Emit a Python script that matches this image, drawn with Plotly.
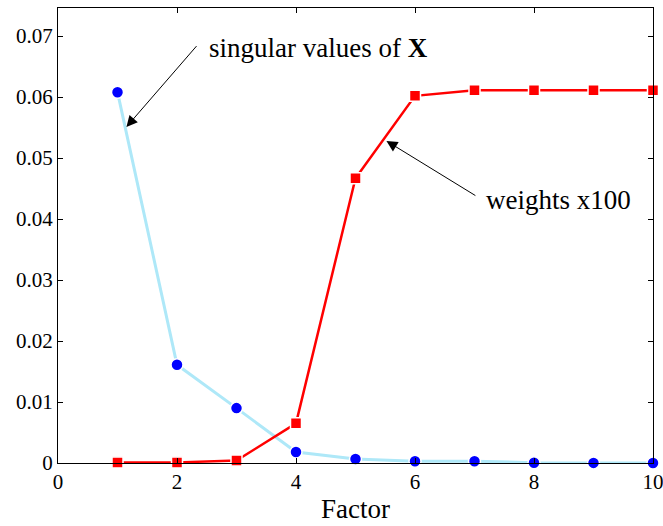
import plotly.graph_objects as go

factors = [1, 2, 3, 4, 5, 6, 7, 8, 9, 10]
singular_values = [0.0608, 0.0161, 0.0090, 0.0018, 0.00066, 0.0003, 0.0003, 0.00005, 0.00002, 0.00001]
weights_x100 = [0.0001, 0.0001, 0.0004, 0.0065, 0.0467, 0.0602, 0.0611, 0.0611, 0.0611, 0.0611]
x_ticks = [0, 2, 4, 6, 8, 10]
y_ticks = [0, 0.01, 0.02, 0.03, 0.04, 0.05, 0.06, 0.07]
y_tick_text = ["0", "0.01", "0.02", "0.03", "0.04", "0.05", "0.06", "0.07"]

font = "Liberation Serif"

fig = go.Figure()
fig.add_trace(go.Scatter(
    x=factors, y=singular_values, mode="lines+markers",
    line=dict(color="#aee8f8", width=3),
    marker=dict(symbol="circle", size=12, color="#0000ff", line=dict(color="white", width=1.5)),
    showlegend=False, cliponaxis=False,
))
fig.add_trace(go.Scatter(
    x=factors, y=weights_x100, mode="lines+markers",
    line=dict(color="#ff0000", width=2.5),
    marker=dict(symbol="square", size=11, color="#ff0000", line=dict(color="white", width=1.5)),
    showlegend=False, cliponaxis=False,
))

axis_common = dict(
    showline=True, linecolor="black", linewidth=1.2, mirror="ticks",
    ticks="inside", ticklen=5, tickcolor="black", showgrid=False, zeroline=False,
    tickfont=dict(family=font, size=21, color="black"),
    ticklabeloverflow="allow", automargin=False,
)
fig.update_xaxes(range=[0, 10], tickvals=x_ticks, ticktext=[str(v) for v in x_ticks],
                 title=dict(text="Factor", font=dict(family=font, size=27, color="black"), standoff=5),
                 **axis_common)
fig.update_yaxes(range=[0, 0.0746], tickvals=y_ticks, ticktext=y_tick_text, **axis_common)

# arrows
fig.add_annotation(x=1.15, y=0.0551, ax=2.35, ay=0.0686, xref="x", yref="y", axref="x", ayref="y",
                   text="", showarrow=True, arrowhead=2, arrowsize=2.2, arrowwidth=1, arrowcolor="black")
fig.add_annotation(x=5.52, y=0.0528, ax=7.04, ay=0.0437, xref="x", yref="y", axref="x", ayref="y",
                   text="", showarrow=True, arrowhead=2, arrowsize=2.2, arrowwidth=1, arrowcolor="black")
# labels
fig.add_annotation(x=2.5, y=0.0681, xref="x", yref="y", xanchor="left", yanchor="middle",
                   text="singular values of <b>X</b>", showarrow=False,
                   font=dict(family=font, size=27, color="black"))
fig.add_annotation(x=7.16, y=0.0431, xref="x", yref="y", xanchor="left", yanchor="middle",
                   text="weights x100", showarrow=False,
                   font=dict(family=font, size=27, color="black"))

fig.update_layout(
    width=663, height=526,
    margin=dict(l=58, r=10, t=8, b=63, autoexpand=False),
    plot_bgcolor="white", paper_bgcolor="white",
)
fig.write_html("out.html")
